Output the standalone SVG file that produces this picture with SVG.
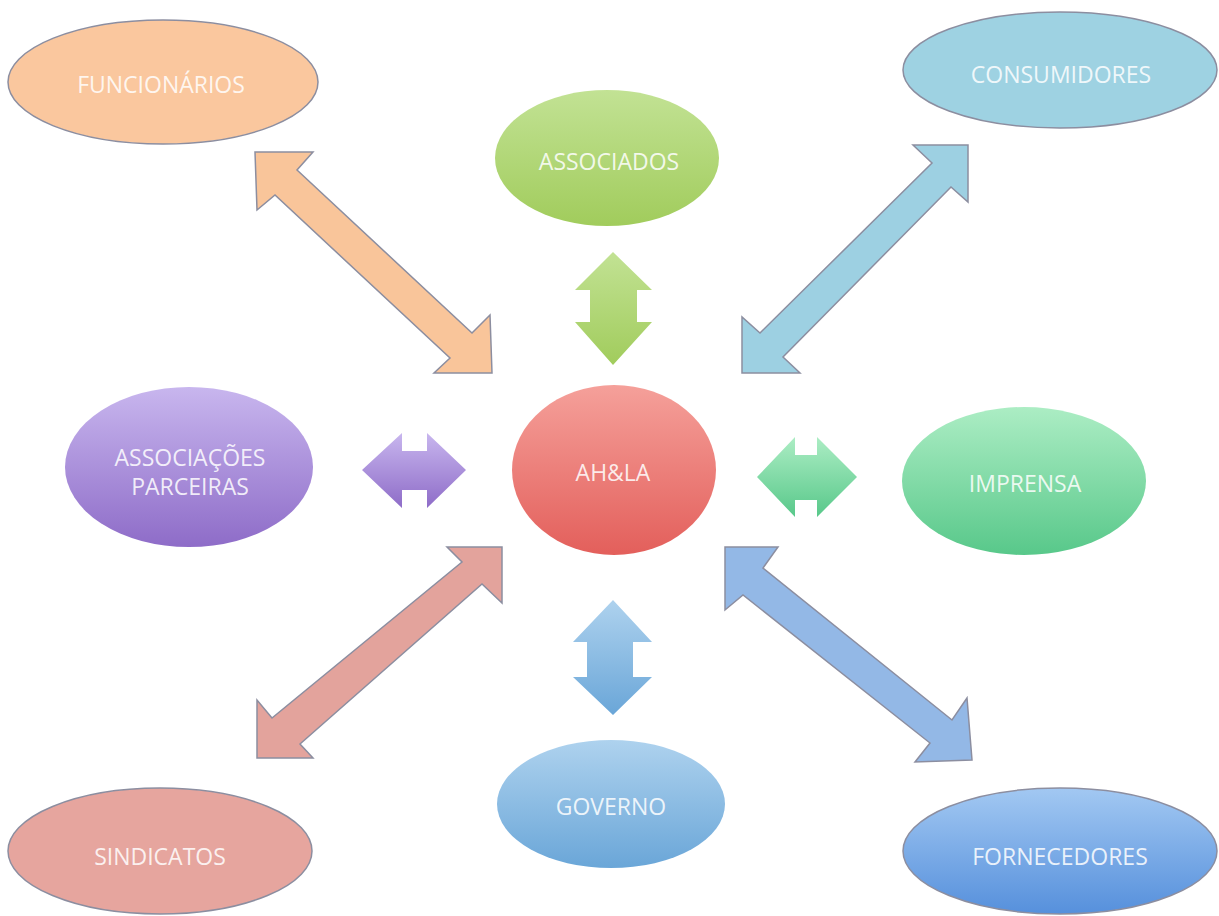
<svg xmlns="http://www.w3.org/2000/svg" width="1219" height="916" viewBox="0 0 1219 916">
<defs>
<linearGradient id="gGreen" x1="0" y1="0" x2="0" y2="1"><stop offset="0" stop-color="#C2E294"/><stop offset="1" stop-color="#A1CC5C"/></linearGradient>
<linearGradient id="gRed" x1="0" y1="0" x2="0" y2="1"><stop offset="0" stop-color="#F5A09A"/><stop offset="1" stop-color="#E35F5B"/></linearGradient>
<linearGradient id="gPurple" x1="0" y1="0" x2="0" y2="1"><stop offset="0" stop-color="#C8B6EE"/><stop offset="1" stop-color="#8E6CC8"/></linearGradient>
<linearGradient id="gMint" x1="0" y1="0" x2="0" y2="1"><stop offset="0" stop-color="#ACEDC4"/><stop offset="1" stop-color="#58C88A"/></linearGradient>
<linearGradient id="gSky" x1="0" y1="0" x2="0" y2="1"><stop offset="0" stop-color="#AED2EE"/><stop offset="1" stop-color="#6AA6D8"/></linearGradient>
<linearGradient id="gBlue" x1="0" y1="0" x2="0" y2="1"><stop offset="0" stop-color="#A2C8F2"/><stop offset="1" stop-color="#5690DC"/></linearGradient>
</defs>
<style>
.lbl{font-family:"Open Sans","Liberation Sans",sans-serif;font-size:23px;fill:#ffffff;fill-opacity:0.85;text-anchor:middle;dominant-baseline:central}
.flat{stroke:#8c8ea0;stroke-width:1.5}
.blk{stroke:#8c8ea0;stroke-width:1.5;stroke-linejoin:miter}
</style>
<rect width="1219" height="916" fill="#ffffff"/>

<g id="connectors">
<polygon class="blk" fill="#F9C59A" points="255,152 313,152 297,170 472,333 490,315 492,373 434,373 450,358 275,195 257,210"/>
<polygon class="blk" fill="#9DD0E2" points="968,145 968,202 951,187 783,357 800,373 742,373 742,317 760,333 932,163 913,145"/>
<polygon class="blk" fill="#E3A39C" points="502,547 502,603 482,584 300,744 313,758 257,758 257,700 272,718 462,562 447,547"/>
<polygon class="blk" fill="#93B8E6" points="725,547 778,547 763,568 952,720 967,698 972,760 915,762 930,743 743,595 725,610"/>
<polygon fill="url(#gGreen)" points="613,252 652,290 637,290 637,322 652,322 613,365 575,322 590,322 590,290 575,290"/>
<polygon fill="url(#gSky)" points="613,600 652,642 633,642 633,677 652,677 613,715 573,677 587,677 587,642 573,642"/>
<polygon fill="url(#gPurple)" points="362,470 402,433 402,451 427,451 427,433 466,470 427,508 427,490 402,490 402,508"/>
<polygon fill="url(#gMint)" points="757,477 795,437 795,455 817,455 817,437 857,477 817,517 817,500 795,500 795,517"/>
</g>

<g id="ahla">
<ellipse cx="614" cy="470" rx="102" ry="85" fill="url(#gRed)"/>
<text class="lbl" x="613" y="472">AH&amp;LA</text>
</g>
<g id="funcionarios">
<ellipse class="flat" cx="163" cy="82" rx="155" ry="62" fill="#FAC79E"/>
<text class="lbl" x="161" y="84">FUNCIONÁRIOS</text>
</g>
<g id="associados">
<ellipse cx="607" cy="158" rx="112" ry="68" fill="url(#gGreen)"/>
<text class="lbl" x="609" y="161">ASSOCIADOS</text>
</g>
<g id="consumidores">
<ellipse class="flat" cx="1060" cy="70" rx="157" ry="58" fill="#9ED2E2"/>
<text class="lbl" x="1061" y="74">CONSUMIDORES</text>
</g>
<g id="parceiras">
<ellipse cx="189" cy="467" rx="124" ry="80" fill="url(#gPurple)"/>
<text class="lbl" x="190" y="457">ASSOCIAÇÕES</text>
<text class="lbl" x="190" y="486">PARCEIRAS</text>
</g>
<g id="imprensa">
<ellipse cx="1024" cy="481" rx="122" ry="74" fill="url(#gMint)"/>
<text class="lbl" x="1025" y="483">IMPRENSA</text>
</g>
<g id="sindicatos">
<ellipse class="flat" cx="160" cy="851" rx="152" ry="63" fill="#E6A59E"/>
<text class="lbl" x="160" y="856">SINDICATOS</text>
</g>
<g id="governo">
<ellipse cx="611" cy="804" rx="114" ry="64" fill="url(#gSky)"/>
<text class="lbl" x="611" y="806">GOVERNO</text>
</g>
<g id="fornecedores">
<ellipse class="flat" cx="1060" cy="851" rx="157" ry="63" fill="url(#gBlue)"/>
<text class="lbl" x="1060" y="856">FORNECEDORES</text>
</g>
</svg>
